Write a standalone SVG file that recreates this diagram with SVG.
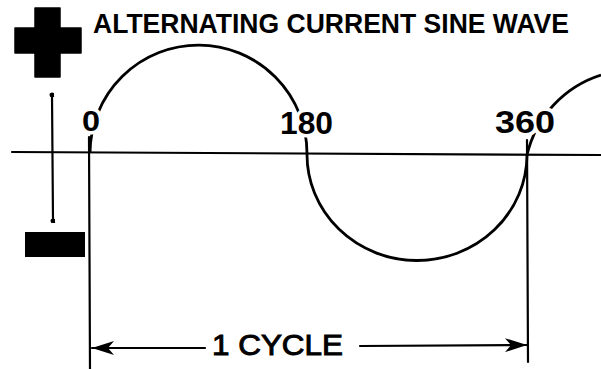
<svg xmlns="http://www.w3.org/2000/svg" width="601" height="369" viewBox="0 0 601 369">
<style>
.ln{fill:none;stroke:#000;stroke-width:2.2;stroke-linecap:round}
.wave{fill:none;stroke:#000;stroke-width:2.8}
.lbl{font-family:"Liberation Sans",Arial,sans-serif;font-weight:bold;fill:#000;stroke:#fff;stroke-width:7;paint-order:stroke;stroke-linejoin:round}
.title{font-family:"Liberation Sans",Arial,sans-serif;font-weight:bold;fill:#000}
.cyc{font-family:"Liberation Sans",Arial,sans-serif;font-weight:normal;fill:#000;stroke:#000;stroke-width:1}
</style>
<defs>
<marker id="ah" viewBox="0 0 22 14" refX="22" refY="7" markerWidth="22" markerHeight="14" markerUnits="userSpaceOnUse" orient="auto">
<path d="M0,0 L22,7 L0,14 L6,7 Z" fill="#000"/>
</marker>
<marker id="dot" viewBox="0 0 6 6" refX="3" refY="3" markerWidth="5" markerHeight="5" markerUnits="userSpaceOnUse" orient="auto">
<circle cx="3" cy="3" r="3" fill="#000"/>
</marker>
</defs>
<rect width="601" height="369" fill="#fff"/>
<g id="plus"><path d="M35,8 H60 V28 H81 V53 H60 V77 H35 V53 H15 V28 H35 Z" fill="#000" stroke="#000" stroke-width="1.5" stroke-linejoin="round"/></g>
<g id="minus"><rect x="25" y="232" width="60" height="25" fill="#000"/></g>
<g id="title"><text class="title" x="93" y="33" font-size="27" textLength="476" lengthAdjust="spacingAndGlyphs">ALTERNATING CURRENT SINE WAVE</text></g>
<g id="connectors">
<line class="ln" x1="12" y1="152" x2="601" y2="155"/>
<line class="ln" x1="52" y1="95" x2="53" y2="221" marker-start="url(#dot)" marker-end="url(#dot)"/>
<line class="ln" x1="89" y1="137" x2="90" y2="369"/>
<line class="ln" x1="527" y1="140" x2="528" y2="362"/>
<line class="ln" x1="205" y1="348" x2="92" y2="348" marker-end="url(#ah)"/>
<line class="ln" x1="360" y1="346" x2="527" y2="345" marker-end="url(#ah)"/>
</g>
<g id="wave">
<path class="wave" d="M90,153 A108,108 0 0 1 307,154 A110,106 0 0 0 527,155 A110,110 0 0 1 601,75"/>
</g>
<g id="labels">
<text class="lbl" x="82" y="131" font-size="30" textLength="18" lengthAdjust="spacingAndGlyphs">0</text>
<text class="lbl" x="280" y="134" font-size="32" textLength="53" lengthAdjust="spacingAndGlyphs">180</text>
<text class="lbl" x="495" y="133" font-size="31" textLength="60" lengthAdjust="spacingAndGlyphs">360</text>
<text class="cyc" x="212" y="355" font-size="30" textLength="131" lengthAdjust="spacingAndGlyphs">1 CYCLE</text>
</g>
</svg>
